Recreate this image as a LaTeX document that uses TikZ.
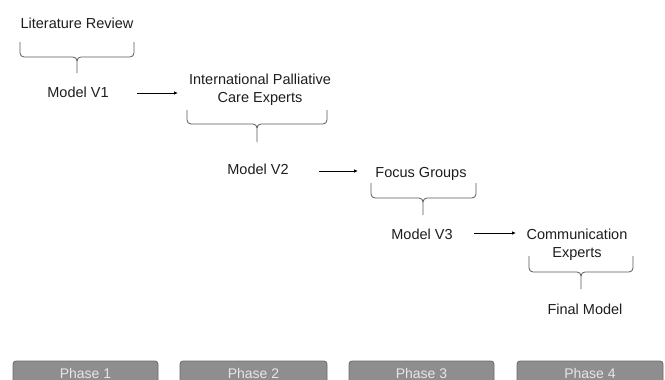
\documentclass[tikz,border=0pt]{standalone}
\usepackage{fontspec}
\setmainfont{Liberation Sans}
\usetikzlibrary{arrows.meta}
\definecolor{txt}{HTML}{1E1E1E}
\definecolor{brc}{HTML}{5A5A5A}
\definecolor{phfill}{HTML}{8E8E8E}
\definecolor{phdraw}{HTML}{6A6A6A}
\definecolor{phtxt}{HTML}{E6E6E6}
\tikzset{
  lbl/.style={anchor=base, inner sep=0pt, text=txt, font=\fontsize{14.5}{18}\selectfont, align=center},
  brace/.style={draw=brc, line width=0.8pt},
  arr/.style={draw=black, line width=0.8pt, -{Latex[length=4pt,width=3.5pt]}},
  phasebox/.style={draw=phdraw, fill=phfill, rounded corners=3pt, line width=0.8pt},
  phlbl/.style={anchor=base, inner sep=0pt, text=phtxt, font=\fontsize{14}{16}\selectfont}
}
\newcommand\mybrace[6]{% left, right, top, horiz, center, bottom
  \draw[brace] (#1,#3) -- (#1,#4-4) to[out=-90,in=180] (#1+4,#4) -- (#5-4,#4) to[out=0,in=90] (#5,#4+4) -- (#5,#6);
  \draw[brace] (#2,#3) -- (#2,#4-4) to[out=-90,in=0] (#2-4,#4) -- (#5+4,#4) to[out=180,in=90] (#5,#4+4);
}
\begin{document}
\begin{tikzpicture}[x=1pt,y=-1pt]
\useasboundingbox (0,0) rectangle (665,380);
\clip (0,0) rectangle (665,380);
\fill[white] (0,0) rectangle (665,380);

\node[lbl] (lit) at (77,28) {Literature Review};
\node[lbl] (m1) at (78,97) {Model V1};
\node[lbl] (ipc) at (260,102) {International Palliative\\Care Experts};
\node[lbl] (m2) at (258,174) {Model V2};
\node[lbl] (fg) at (421,177) {Focus Groups};
\node[lbl] (m3) at (422,239) {Model V3};
\node[lbl] (ce) at (577,257) {Communication\\Experts};
\node[lbl] (fm) at (585,314) {Final Model};

\mybrace{20}{134}{42}{57}{77}{73}
\mybrace{187}{327}{110}{124}{257}{142}
\mybrace{371}{476}{183}{198}{423}{215}
\mybrace{529}{633}{256}{272}{581}{289}

\coordinate (a1s) at (137,93);  \coordinate (a1e) at (178,93);
\coordinate (a2s) at (319,171); \coordinate (a2e) at (358,171);
\coordinate (a3s) at (474,233); \coordinate (a3e) at (516,233);
\draw[arr] (a1s) -- (a1e);
\draw[arr] (a2s) -- (a2e);
\draw[arr] (a3s) -- (a3e);

\draw[phasebox] (13,361) rectangle (158,400);
\draw[phasebox] (180,361) rectangle (327,400);
\draw[phasebox] (349,361) rectangle (494,400);
\draw[phasebox] (517,361) rectangle (663,400);
\node[phlbl] (p1) at (85.5,378.5) {Phase 1};
\node[phlbl] (p2) at (253.5,378.5) {Phase 2};
\node[phlbl] (p3) at (421.5,378.5) {Phase 3};
\node[phlbl] (p4) at (590,378.5) {Phase 4};
\end{tikzpicture}
\end{document}
